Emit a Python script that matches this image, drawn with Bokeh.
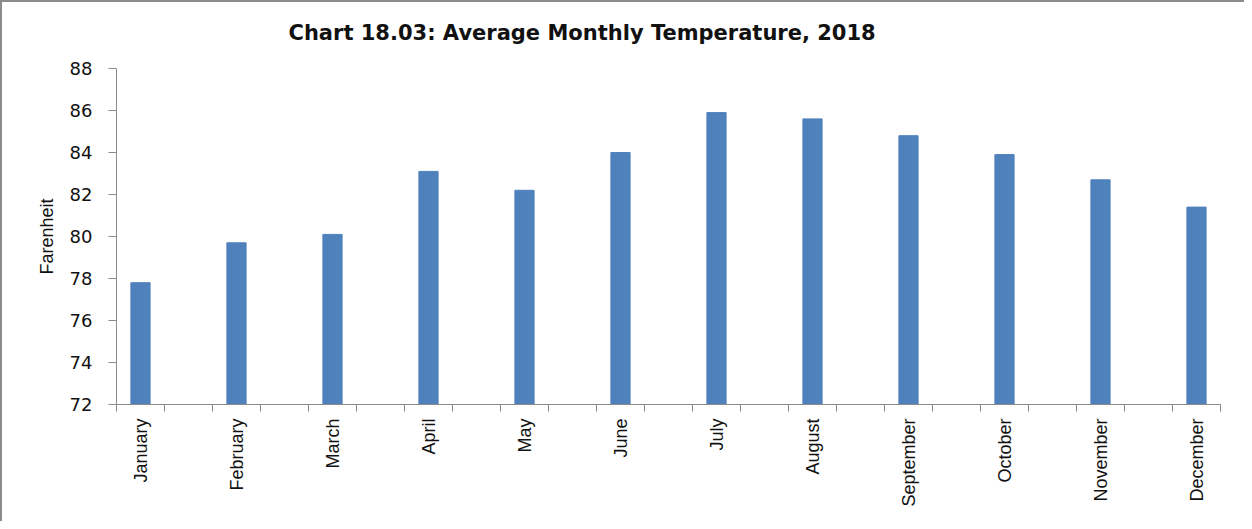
import math
from bokeh.plotting import figure
from bokeh.models import FixedTicker, Range1d, Title
from bokeh.embed import file_html
from bokeh.resources import INLINE

months = ["January", "February", "March", "April", "May", "June", "July",
          "August", "September", "October", "November", "December"]
temps = [77.8, 79.7, 80.1, 83.1, 82.2, 84.0, 85.9, 85.6, 84.8, 83.9, 82.7, 81.4]
y_ticks = [72, 74, 76, 78, 80, 82, 84, 86, 88]
title_text = "Chart 18.03: Average Monthly  Temperature, 2018"

# each month occupies a slot, with an empty slot between months
xpos = [2 * i for i in range(len(months))]
slot_edges = [e - 0.5 for e in range(0, 2 * len(months))]

p = figure(width=1244, height=529, output_backend="svg", toolbar_location=None,
           x_range=Range1d(-0.5, 2 * len(months) - 1.5), y_range=Range1d(72, 88),
           min_border_left=116, min_border_right=24, min_border_top=76,
           min_border_bottom=117)
p.border_fill_color = None
p.background_fill_color = "#ffffff"
line = "linear-gradient(#8c8c8c, #8c8c8c)"
p.styles = {
    "margin-top": "-8px",
    "background": f"{line} 0px 8px / 100% 2px no-repeat, {line} 0px 8px / 2px 100% no-repeat, #ffffff",
}

p.vbar(x=xpos, top=temps, bottom=72, width=0.4, fill_color="#4F81BD",
       line_color="#4F81BD", line_width=1)

p.outline_line_color = None
p.xgrid.grid_line_color = None
p.ygrid.grid_line_color = None

title = Title(text=title_text, text_font="DejaVu Sans", text_font_size="21px",
              text_font_style="bold", text_color="#111111",
              align="left", offset=172, standoff=48)
p.add_layout(title, "above")

# y axis
p.yaxis.ticker = FixedTicker(ticks=y_ticks)
p.yaxis.axis_line_color = "#8c8c8c"
p.yaxis.major_tick_line_color = "#8c8c8c"
p.yaxis.major_tick_out = 8
p.yaxis.major_tick_in = 0
p.yaxis.minor_tick_line_color = None
p.yaxis.major_label_text_font = "DejaVu Sans"
p.yaxis.major_label_text_font_size = "18px"
p.yaxis.major_label_text_color = "#111111"
p.yaxis.major_label_standoff = 16
p.yaxis.axis_label = "Farenheit"
p.yaxis.axis_label_text_font = "Liberation Sans"
p.yaxis.axis_label_text_font_size = "18px"
p.yaxis.axis_label_text_font_style = "normal"
p.yaxis.axis_label_text_color = "#111111"
p.yaxis.axis_label_standoff = 10

# x axis
p.xaxis.ticker = FixedTicker(ticks=xpos, minor_ticks=slot_edges + [2 * len(months) - 1.5])
p.xaxis.major_label_overrides = {x: m for x, m in zip(xpos, months)}
p.xaxis.axis_line_color = "#8c8c8c"
p.xaxis.major_tick_out = 0
p.xaxis.major_tick_in = 0
p.xaxis.minor_tick_line_color = "#8c8c8c"
p.xaxis.minor_tick_out = 7
p.xaxis.minor_tick_in = 0
p.xaxis.major_label_orientation = math.pi / 2
p.xaxis.major_label_text_font = "Liberation Sans"
p.xaxis.major_label_text_font_size = "18px"
p.xaxis.major_label_text_color = "#111111"
p.xaxis.major_label_standoff = 7

open("out.html", "w").write(file_html(p, INLINE))
